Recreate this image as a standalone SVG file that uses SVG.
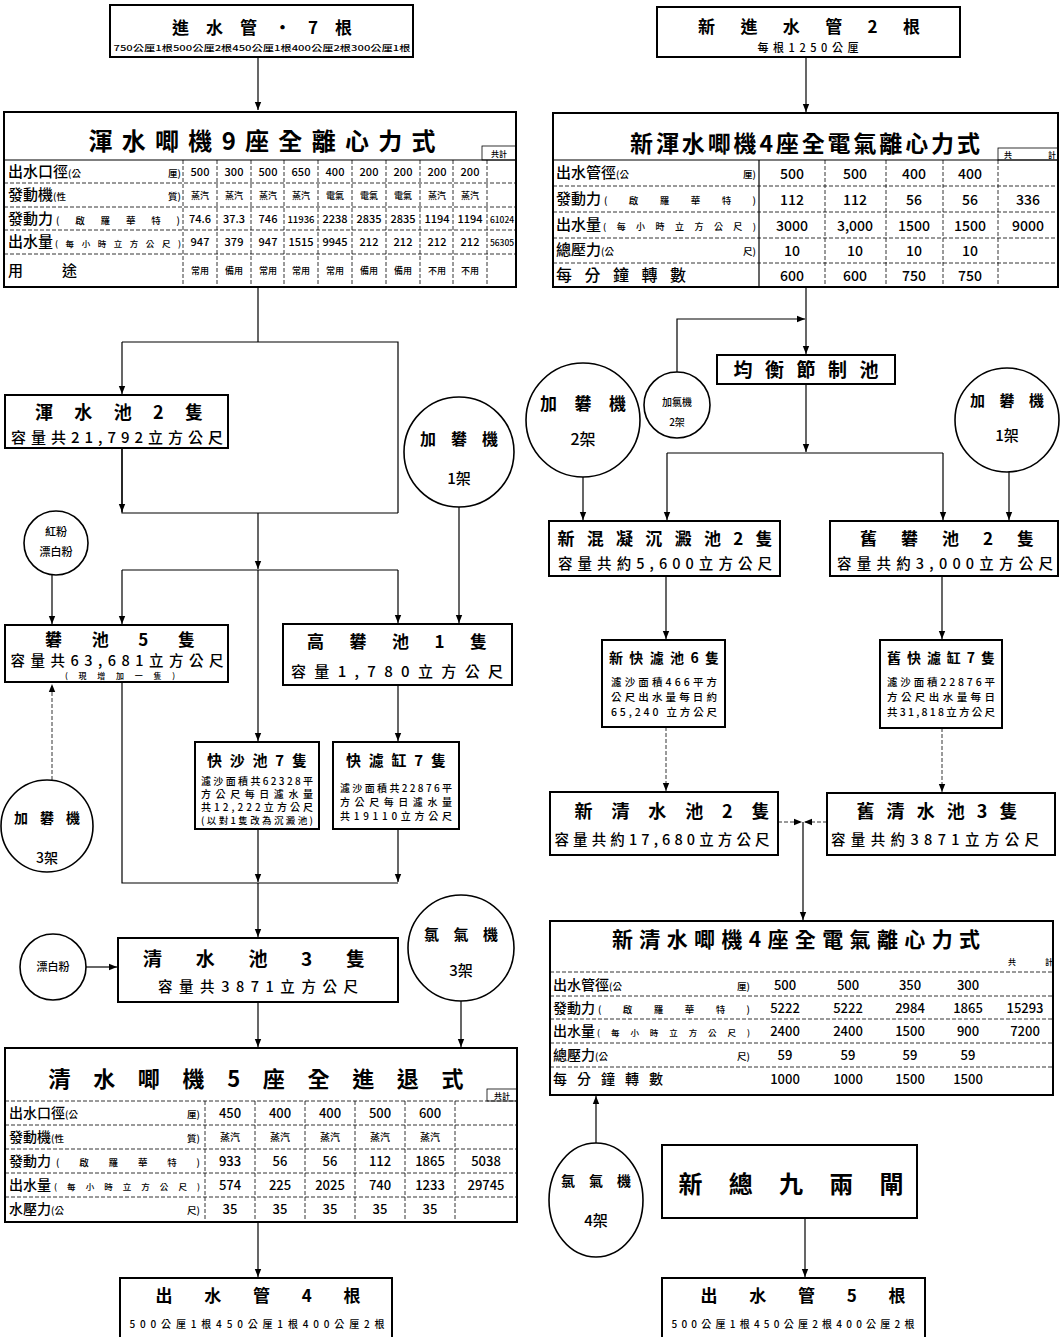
<svg xmlns="http://www.w3.org/2000/svg" width="1061" height="1337" viewBox="0 0 1061 1337">
<defs>
<style>
text{font-family:"Noto Sans CJK TC","Noto Sans CJK SC",sans-serif;fill:#000;font-weight:500}
.box{fill:#fff;stroke:#000;stroke-width:2}
.cir{fill:#fff;stroke:#000;stroke-width:1.6}
.c{fill:none;stroke:#000;stroke-width:1.2}
.g{fill:none;stroke:#000;stroke-width:0.8;stroke-dasharray:4 2}
.m{text-anchor:middle}
.e{text-anchor:end}
.b{font-weight:700}
.t16{font-size:16px}
.v{font-size:11px;text-anchor:middle}
.v14{font-size:14px;text-anchor:middle}
.v13{font-size:13px;text-anchor:middle}
.lab{font-size:15px}
.br{font-size:9.5px}
</style>
<marker id="a" viewBox="0 0 10 10" refX="10" refY="5" markerWidth="8" markerHeight="8" markerUnits="userSpaceOnUse" orient="auto"><path d="M0,1 L10,5 L0,9 z" fill="#000"/></marker>
</defs>
<rect width="1061" height="1337" fill="#fff"/>

<g id="connectors">
<path class="c" d="M258,57 V110" marker-end="url(#a)"/>
<path class="c" d="M258,287 V342 M122,342 H398 V513 M122,448 V513 H398 M122,570 H398"/>
<path class="c" d="M122,342 V394" marker-end="url(#a)"/>
<path class="c" d="M122,448 V512" marker-end="url(#a)"/>
<path class="c" d="M258,513 V569" marker-end="url(#a)"/>
<path class="c" d="M122,570 V624" marker-end="url(#a)"/>
<path class="c" d="M398,570 V623" marker-end="url(#a)"/>
<path class="c" d="M258,570 V741" marker-end="url(#a)"/>
<path class="c" d="M459,507 V623" marker-end="url(#a)"/>
<path class="c" d="M52,575 V624" marker-end="url(#a)"/>
<path class="g" d="M52,780 V684" marker-end="url(#a)"/>
<path class="c" d="M398,685 V741" marker-end="url(#a)"/>
<path class="c" d="M122,682 V883 H398"/>
<path class="c" d="M258,829 V882" marker-end="url(#a)"/>
<path class="c" d="M398,829 V882" marker-end="url(#a)"/>
<path class="c" d="M258,883 V937" marker-end="url(#a)"/>
<path class="c" d="M86,967 H117" marker-end="url(#a)"/>
<path class="c" d="M258,1002 V1047" marker-end="url(#a)"/>
<path class="c" d="M461,1001 V1047" marker-end="url(#a)"/>
<path class="c" d="M258,1222 V1277" marker-end="url(#a)"/>

<path class="c" d="M806,57 V112" marker-end="url(#a)"/>
<path class="c" d="M806,287 V354" marker-end="url(#a)"/>
<path class="c" d="M677,372 V319 H805" marker-end="url(#a)"/>
<path class="c" d="M806,384 V452" marker-end="url(#a)"/>
<path class="c" d="M667,453 H943"/>
<path class="c" d="M667,453 V520" marker-end="url(#a)"/>
<path class="c" d="M943,453 V520" marker-end="url(#a)"/>
<path class="c" d="M583,477 V520" marker-end="url(#a)"/>
<path class="c" d="M1009,472 V520" marker-end="url(#a)"/>
<path class="c" d="M666,576 V639" marker-end="url(#a)"/>
<path class="c" d="M942,576 V639" marker-end="url(#a)"/>
<path class="g" d="M666,727 V791" marker-end="url(#a)"/>
<path class="g" d="M942,728 V792" marker-end="url(#a)"/>
<path class="g" d="M778,822 H802" marker-end="url(#a)"/>
<path class="g" d="M827,822 H804" marker-end="url(#a)"/>
<path class="c" d="M803,822 V920" marker-end="url(#a)"/>
<path class="c" d="M596,1143 V1096" marker-end="url(#a)"/>
<path class="c" d="M805,1218 V1277" marker-end="url(#a)"/>
</g>

<g id="inlet7">
<rect class="box" x="110" y="5" width="303" height="52"/>
<text class="m b" x="262" y="34" font-size="17" textLength="180" lengthAdjust="spacing">進水管·7根</text>
<text class="m" x="262" y="51" font-size="8" textLength="297" lengthAdjust="spacingAndGlyphs">750公厘1根500公厘2根450公厘1根400公厘2根300公厘1根</text>
</g>

<g id="rawpump9">
<rect class="box" x="4" y="112" width="512" height="175"/>
<text class="m b" x="262" y="150" font-size="24" textLength="347" lengthAdjust="spacing">渾水唧機9座全離心力式</text>
<rect x="482" y="146" width="34" height="14" fill="none" stroke="#000" stroke-width="0.8"/>
<text class="m" x="499" y="157" font-size="8">共計</text>
<path class="c" d="M4,160 H516"/>
<path class="g" d="M4,183 H516 M4,207 H516 M4,230 H516 M4,254 H516"/>
<path class="g" d="M183,160 V287 M217,160 V287 M251,160 V287 M284,160 V287 M318,160 V287 M352,160 V287 M386,160 V287 M420,160 V287 M453,160 V287 M487,160 V287"/>
<text x="8" y="177" class="lab">出水口徑<tspan class="br">(公</tspan></text><text x="181" y="177" class="br e">厘)</text>
<text x="8" y="200" class="lab">發動機<tspan class="br">(性</tspan></text><text x="181" y="200" class="br e">質)</text>
<text x="8" y="224" class="lab">發動力</text><text x="56" y="224" class="br" textLength="124" lengthAdjust="spacing">(啟羅華特)</text>
<text x="8" y="247" class="lab">出水量</text><text x="55" y="247" font-size="8.5" textLength="126" lengthAdjust="spacing">(每小時立方公尺)</text>
<text x="8" y="276" class="lab">用</text><text x="62" y="276" class="lab">途</text>
<g class="v">
<text x="200" y="176">500</text><text x="234" y="176">300</text><text x="268" y="176">500</text><text x="301" y="176">650</text><text x="335" y="176">400</text><text x="369" y="176">200</text><text x="403" y="176">200</text><text x="437" y="176">200</text><text x="470" y="176">200</text>
</g>
<g class="v">
<text x="200" y="199" font-size="9">蒸汽</text><text x="234" y="199" font-size="9">蒸汽</text><text x="268" y="199" font-size="9">蒸汽</text><text x="301" y="199" font-size="9">蒸汽</text><text x="335" y="199" font-size="9">電氣</text><text x="369" y="199" font-size="9">電氣</text><text x="403" y="199" font-size="9">電氣</text><text x="437" y="199" font-size="9">蒸汽</text><text x="470" y="199" font-size="9">蒸汽</text>
</g>
<g class="v">
<text x="200" y="223">74.6</text><text x="234" y="223">37.3</text><text x="268" y="223">746</text><text x="301" y="223" font-size="9.5">11936</text><text x="335" y="223">2238</text><text x="369" y="223">2835</text><text x="403" y="223">2835</text><text x="437" y="223">1194</text><text x="470" y="223">1194</text><text x="502" y="223" font-size="8.5">61024</text>
<text x="200" y="246">947</text><text x="234" y="246">379</text><text x="268" y="246">947</text><text x="301" y="246">1515</text><text x="335" y="246">9945</text><text x="369" y="246">212</text><text x="403" y="246">212</text><text x="437" y="246">212</text><text x="470" y="246">212</text><text x="502" y="246" font-size="8.5">56305</text>
</g>
<g class="v">
<text x="200" y="274" font-size="9">常用</text><text x="234" y="274" font-size="9">備用</text><text x="268" y="274" font-size="9">常用</text><text x="301" y="274" font-size="9">常用</text><text x="335" y="274" font-size="9">常用</text><text x="369" y="274" font-size="9">備用</text><text x="403" y="274" font-size="9">備用</text><text x="437" y="274" font-size="9">不用</text><text x="470" y="274" font-size="9">不用</text>
</g>
</g>

<g id="rawpool">
<rect class="box" x="5" y="395" width="223" height="53"/>
<text class="m b" x="119" y="419" font-size="18" textLength="168" lengthAdjust="spacing">渾水池2隻</text>
<text class="m" x="117" y="443" font-size="15" textLength="212" lengthAdjust="spacing">容量共21,792立方公尺</text>
</g>

<g id="alum1-left">
<circle class="cir" cx="459" cy="452" r="55"/>
<text class="m b" x="459" y="445" font-size="16" textLength="78" lengthAdjust="spacing">加礬機</text>
<text class="m" x="459" y="484" font-size="15">1架</text>
</g>

<g id="chem-redpowder">
<circle class="cir" cx="56" cy="543" r="32"/>
<text class="m" x="56" y="536" font-size="11">紅粉</text>
<text class="m" x="56" y="556" font-size="11">漂白粉</text>
</g>

<g id="alumpool5">
<rect class="box" x="5" y="625" width="223" height="57"/>
<text class="m b" x="120" y="646" font-size="17" textLength="150" lengthAdjust="spacing">礬池5隻</text>
<text class="m" x="117" y="666" font-size="14.5" textLength="213" lengthAdjust="spacing">容量共63,681立方公尺</text>
<text class="m" x="120" y="679" font-size="8" textLength="110" lengthAdjust="spacing">(現增加一隻)</text>
</g>

<g id="highalum">
<rect class="box" x="283" y="624" width="229" height="61"/>
<text class="m b" x="397" y="648" font-size="17" textLength="180" lengthAdjust="spacing">高礬池1隻</text>
<text class="m" x="397" y="677" font-size="15" textLength="212" lengthAdjust="spacing">容量1,780立方公尺</text>
</g>

<g id="alum3">
<circle class="cir" cx="47" cy="826" r="46"/>
<text class="m b" x="47" y="823" font-size="14" textLength="66" lengthAdjust="spacing">加礬機</text>
<text class="m" x="47" y="863" font-size="14">3架</text>
</g>

<g id="sandfilter7">
<rect class="box" x="195" y="742" width="124" height="87"/>
<text class="m b" x="257" y="766" font-size="15" textLength="100" lengthAdjust="spacing">快沙池7隻</text>
<text class="m" x="257" y="785" font-size="10" textLength="112" lengthAdjust="spacing">濾沙面積共62328平</text>
<text class="m" x="257" y="798" font-size="10" textLength="112" lengthAdjust="spacing">方公尺每日濾水量</text>
<text class="m" x="257" y="811" font-size="10" textLength="112" lengthAdjust="spacing">共12,222立方公尺</text>
<text class="m" x="257" y="824" font-size="9.5" textLength="112" lengthAdjust="spacing">(以對1隻改為沉澱池)</text>
</g>

<g id="fastfilter7">
<rect class="box" x="333" y="742" width="126" height="87"/>
<text class="m b" x="396" y="766" font-size="15" textLength="100" lengthAdjust="spacing">快濾缸7隻</text>
<text class="m" x="396" y="792" font-size="10" textLength="112" lengthAdjust="spacing">濾沙面積共22876平</text>
<text class="m" x="396" y="806" font-size="10" textLength="112" lengthAdjust="spacing">方公尺每日濾水量</text>
<text class="m" x="396" y="820" font-size="10" textLength="112" lengthAdjust="spacing">共19110立方公尺</text>
</g>

<g id="clearpool3">
<rect class="box" x="118" y="938" width="280" height="64"/>
<text class="m b" x="254" y="966" font-size="19" textLength="222" lengthAdjust="spacing">清水池3隻</text>
<text class="m" x="258" y="992" font-size="14.5" textLength="200" lengthAdjust="spacing">容量共3871立方公尺</text>
</g>

<g id="bleach">
<circle class="cir" cx="53" cy="967" r="33"/>
<text class="m" x="53" y="971" font-size="11">漂白粉</text>
</g>

<g id="chlor3">
<circle class="cir" cx="461" cy="948" r="53"/>
<text class="m b" x="461" y="940" font-size="15" textLength="74" lengthAdjust="spacing">氯氣機</text>
<text class="m" x="461" y="976" font-size="15">3架</text>
</g>

<g id="clearpump5">
<rect class="box" x="5" y="1048" width="512" height="174"/>
<text class="m b" x="256" y="1087" font-size="22" textLength="415" lengthAdjust="spacing">清水唧機5座全進退式</text>
<rect x="487" y="1089" width="30" height="12" fill="none" stroke="#000" stroke-width="0.8"/>
<text class="m" x="502" y="1099" font-size="8">共計</text>
<path class="g" d="M5,1101 H517 M5,1125 H517 M5,1149 H517 M5,1173 H517 M5,1197 H517"/>
<path class="g" d="M205,1101 V1222 M255,1101 V1222 M305,1101 V1222 M355,1101 V1222 M405,1101 V1222 M455,1101 V1222"/>
<text x="9" y="1118" font-size="14">出水口徑<tspan class="br">(公</tspan></text><text x="200" y="1118" class="br e">厘)</text>
<text x="9" y="1142" font-size="14">發動機<tspan class="br">(性</tspan></text><text x="200" y="1142" class="br e">質)</text>
<text x="9" y="1166" font-size="14">發動力</text><text x="56" y="1166" class="br" textLength="144" lengthAdjust="spacing">(啟羅華特)</text>
<text x="9" y="1190" font-size="14">出水量</text><text x="54" y="1190" font-size="8.5" textLength="146" lengthAdjust="spacing">(每小時立方公尺)</text>
<text x="9" y="1214" font-size="14">水壓力<tspan class="br">(公</tspan></text><text x="200" y="1214" class="br e">尺)</text>
<g class="v13">
<text x="230" y="1118">450</text><text x="280" y="1118">400</text><text x="330" y="1118">400</text><text x="380" y="1118">500</text><text x="430" y="1118">600</text>
<text x="230" y="1141" font-size="10">蒸汽</text><text x="280" y="1141" font-size="10">蒸汽</text><text x="330" y="1141" font-size="10">蒸汽</text><text x="380" y="1141" font-size="10">蒸汽</text><text x="430" y="1141" font-size="10">蒸汽</text>
<text x="230" y="1166">933</text><text x="280" y="1166">56</text><text x="330" y="1166">56</text><text x="380" y="1166">112</text><text x="430" y="1166">1865</text><text x="486" y="1166">5038</text>
<text x="230" y="1190">574</text><text x="280" y="1190">225</text><text x="330" y="1190">2025</text><text x="380" y="1190">740</text><text x="430" y="1190">1233</text><text x="486" y="1190">29745</text>
<text x="230" y="1214">35</text><text x="280" y="1214">35</text><text x="330" y="1214">35</text><text x="380" y="1214">35</text><text x="430" y="1214">35</text>
</g>
</g>

<g id="outlet4">
<rect class="box" x="120" y="1278" width="272" height="70"/>
<text class="m b" x="258" y="1302" font-size="17" textLength="205" lengthAdjust="spacing">出水管4根</text>
<text class="m" x="257" y="1328" font-size="10" textLength="255" lengthAdjust="spacing">500公厘1根450公厘1根400公厘2根</text>
</g>

<g id="newinlet2">
<rect class="box" x="657" y="7" width="303" height="50"/>
<text class="m b" x="809" y="33" font-size="17" textLength="222" lengthAdjust="spacing">新進水管2根</text>
<text class="m" x="808" y="52" font-size="11" textLength="101" lengthAdjust="spacing">每根1250公厘</text>
</g>

<g id="newrawpump4">
<rect class="box" x="553" y="113" width="505" height="174"/>
<text class="m b" x="805" y="152" font-size="23" textLength="350" lengthAdjust="spacing">新渾水唧機4座全電氣離心力式</text>
<rect x="998" y="148" width="60" height="12" fill="none" stroke="#000" stroke-width="0.8"/>
<text x="1004" y="158" font-size="8">共</text><text x="1048" y="158" font-size="8">計</text>
<path class="c" d="M553,160 H1058"/>
<path class="g" d="M553,186 H1058 M553,212 H1058 M553,238 H1058 M553,263 H1058"/>
<path class="c" d="M759,160 V287"/>
<path class="g" d="M825,160 V287 M886,160 V287 M943,160 V287 M998,160 V287"/>
<text x="556" y="178" font-size="15">出水管徑<tspan class="br">(公</tspan></text><text x="756" y="178" class="br e">厘)</text>
<text x="556" y="204" font-size="15">發動力</text><text x="604" y="204" class="br" textLength="152" lengthAdjust="spacing">(啟羅華特)</text>
<text x="556" y="230" font-size="15">出水量</text><text x="603" y="230" font-size="9" textLength="153" lengthAdjust="spacing">(每小時立方公尺)</text>
<text x="556" y="255" font-size="15">總壓力<tspan class="br">(公</tspan></text><text x="756" y="255" class="br e">尺)</text>
<text x="556" y="281" font-size="16" textLength="130" lengthAdjust="spacing">每分鐘轉數</text>
<g class="v14">
<text x="792" y="179">500</text><text x="855" y="179">500</text><text x="914" y="179">400</text><text x="970" y="179">400</text>
<text x="792" y="205">112</text><text x="855" y="205">112</text><text x="914" y="205">56</text><text x="970" y="205">56</text><text x="1028" y="205">336</text>
<text x="792" y="231">3000</text><text x="855" y="231">3,000</text><text x="914" y="231">1500</text><text x="970" y="231">1500</text><text x="1028" y="231">9000</text>
<text x="792" y="256">10</text><text x="855" y="256">10</text><text x="914" y="256">10</text><text x="970" y="256">10</text>
<text x="792" y="281">600</text><text x="855" y="281">600</text><text x="914" y="281">750</text><text x="970" y="281">750</text>
</g>
</g>

<g id="chlor2-small">
<circle class="cir" cx="677" cy="405" r="33"/>
<text class="m" x="677" y="406" font-size="10">加氯機</text>
<text class="m" x="677" y="426" font-size="10">2架</text>
</g>

<g id="alum2">
<circle class="cir" cx="583" cy="420" r="57"/>
<text class="m b" x="583" y="410" font-size="17" textLength="86" lengthAdjust="spacing">加礬機</text>
<text class="m" x="583" y="445" font-size="16">2架</text>
</g>

<g id="balance">
<rect class="box" x="717" y="355" width="178" height="29"/>
<text class="m b" x="806" y="377" font-size="19" textLength="145" lengthAdjust="spacing">均衡節制池</text>
</g>

<g id="alum1-right">
<circle class="cir" cx="1007" cy="420" r="52"/>
<text class="m b" x="1007" y="406" font-size="15" textLength="74" lengthAdjust="spacing">加礬機</text>
<text class="m" x="1007" y="441" font-size="15">1架</text>
</g>

<g id="newsettle">
<rect class="box" x="549" y="521" width="231" height="55"/>
<text class="m b" x="665" y="545" font-size="17" textLength="215" lengthAdjust="spacing">新混凝沉澱池2隻</text>
<text class="m" x="665" y="569" font-size="14.5" textLength="214" lengthAdjust="spacing">容量共約5,600立方公尺</text>
</g>

<g id="oldalum2">
<rect class="box" x="830" y="521" width="228" height="55"/>
<text class="m b" x="947" y="545" font-size="17" textLength="174" lengthAdjust="spacing">舊礬池2隻</text>
<text class="m" x="945" y="569" font-size="14.5" textLength="216" lengthAdjust="spacing">容量共約3,000立方公尺</text>
</g>

<g id="newfilter6">
<rect class="box" x="602" y="640" width="123" height="87"/>
<text class="m b" x="664" y="663" font-size="14" textLength="110" lengthAdjust="spacing">新快濾池6隻</text>
<text class="m" x="664" y="686" font-size="10.5" textLength="106" lengthAdjust="spacing">濾沙面積466平方</text>
<text class="m" x="664" y="701" font-size="10.5" textLength="106" lengthAdjust="spacing">公尺出水量每日約</text>
<text class="m" x="664" y="716" font-size="10.5" textLength="106" lengthAdjust="spacing">65,240 立方公尺</text>
</g>

<g id="oldfilter7">
<rect class="box" x="880" y="640" width="122" height="88"/>
<text class="m b" x="941" y="663" font-size="14" textLength="108" lengthAdjust="spacing">舊快濾缸7隻</text>
<text class="m" x="941" y="686" font-size="10.5" textLength="108" lengthAdjust="spacing">濾沙面積22876平</text>
<text class="m" x="941" y="701" font-size="10.5" textLength="108" lengthAdjust="spacing">方公尺出水量每日</text>
<text class="m" x="941" y="716" font-size="10.5" textLength="108" lengthAdjust="spacing">共31,818立方公尺</text>
</g>

<g id="newclear2">
<rect class="box" x="550" y="792" width="228" height="63"/>
<text class="m b" x="672" y="818" font-size="18" textLength="195" lengthAdjust="spacing">新清水池2隻</text>
<text class="m" x="662" y="845" font-size="14.5" textLength="215" lengthAdjust="spacing">容量共約17,680立方公尺</text>
</g>

<g id="oldclear3">
<rect class="box" x="827" y="793" width="228" height="62"/>
<text class="m b" x="937" y="818" font-size="18" textLength="161" lengthAdjust="spacing">舊清水池3隻</text>
<text class="m" x="935" y="845" font-size="14.5" textLength="208" lengthAdjust="spacing">容量共約3871立方公尺</text>
</g>

<g id="newclearpump4">
<rect class="box" x="550" y="921" width="503" height="174"/>
<text class="m b" x="796" y="947" font-size="21" textLength="368" lengthAdjust="spacing">新清水唧機4座全電氣離心力式</text>
<text x="1008" y="965" font-size="8">共</text><text x="1045" y="965" font-size="8">計</text>
<path class="g" d="M550,972 H1053 M550,996 H1053 M550,1019 H1053 M550,1043 H1053 M550,1067 H1053"/>
<text x="553" y="990" font-size="14">出水管徑<tspan class="br">(公</tspan></text><text x="750" y="990" class="br e">厘)</text>
<text x="553" y="1013" font-size="14">發動力</text><text x="598" y="1013" class="br" textLength="152" lengthAdjust="spacing">(啟羅華特)</text>
<text x="553" y="1036" font-size="14">出水量</text><text x="597" y="1036" font-size="8.5" textLength="153" lengthAdjust="spacing">(每小時立方公尺)</text>
<text x="553" y="1060" font-size="14">總壓力<tspan class="br">(公</tspan></text><text x="750" y="1060" class="br e">尺)</text>
<text x="553" y="1084" font-size="14" textLength="110" lengthAdjust="spacing">每分鐘轉數</text>
<g class="v13">
<text x="785" y="990">500</text><text x="848" y="990">500</text><text x="910" y="990">350</text><text x="968" y="990">300</text>
<text x="785" y="1013">5222</text><text x="848" y="1013">5222</text><text x="910" y="1013">2984</text><text x="968" y="1013">1865</text><text x="1025" y="1013">15293</text>
<text x="785" y="1036">2400</text><text x="848" y="1036">2400</text><text x="910" y="1036">1500</text><text x="968" y="1036">900</text><text x="1025" y="1036">7200</text>
<text x="785" y="1060">59</text><text x="848" y="1060">59</text><text x="910" y="1060">59</text><text x="968" y="1060">59</text>
<text x="785" y="1084">1000</text><text x="848" y="1084">1000</text><text x="910" y="1084">1500</text><text x="968" y="1084">1500</text>
</g>
</g>

<g id="chlor4">
<ellipse class="cir" cx="596" cy="1200" rx="47" ry="57"/>
<text class="m b" x="596" y="1186" font-size="14" textLength="70" lengthAdjust="spacing">氯氣機</text>
<text class="m" x="596" y="1226" font-size="15">4架</text>
</g>

<g id="mainvalve">
<rect class="box" x="662" y="1145" width="255" height="73"/>
<text class="m b" x="791" y="1193" font-size="24" textLength="225" lengthAdjust="spacing">新總九兩閘</text>
</g>

<g id="outlet5">
<rect class="box" x="662" y="1278" width="263" height="70"/>
<text class="m b" x="803" y="1302" font-size="17" textLength="205" lengthAdjust="spacing">出水管5根</text>
<text class="m" x="793" y="1328" font-size="10" textLength="243" lengthAdjust="spacing">500公厘1根450公厘2根400公厘2根</text>
</g>
</svg>
